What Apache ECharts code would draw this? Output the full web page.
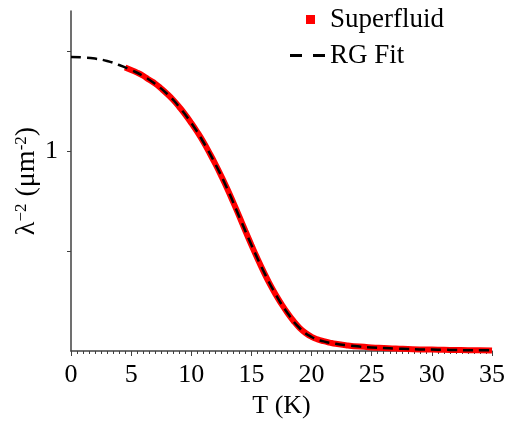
<!DOCTYPE html>
<html>
<head>
<meta charset="utf-8">
<script src="https://cdn.jsdelivr.net/npm/echarts@6/dist/echarts.min.js"></script>
<style>html,body{margin:0;padding:0;background:#fff}#c{width:508px;height:424px}</style>
</head>
<body>
<div id="c"></div>
<script>
// Data
var fitT   = [0,1,2,3,4,5,6,7,8,9,10,11,12,13,14,15,16,17,18,19,20,21,22,23,24,25,26,27,28,29,30,31,32,33,34,35];
var fitVal = [1.470,1.468,1.462,1.450,1.430,1.405,1.375,1.335,1.285,1.220,1.140,1.045,0.935,0.810,0.670,0.530,0.400,0.285,0.190,0.115,0.070,0.048,0.036,0.028,0.022,0.018,0.015,0.012,0.010,0.008,0.007,0.006,0.005,0.004,0.004,0.003];
var sfT    = [4.5,5,5.5,6,6.5,7,7.5,8,8.5,9,9.5,10,10.5,11,11.5,12,12.5,13,13.5,14,14.5,15,15.5,16,16.5,17,17.5,18,18.5,19,19.5,20,20.5,21,21.5,22,23,24,25,26,27,28,29,30,31,32,33,34,35];
var sfVal  = [1.418,1.405,1.392,1.376,1.356,1.337,1.312,1.285,1.255,1.220,1.182,1.140,1.095,1.046,0.992,0.935,0.874,0.810,0.742,0.672,0.600,0.530,0.462,0.398,0.338,0.284,0.235,0.190,0.150,0.116,0.090,0.071,0.058,0.049,0.042,0.036,0.028,0.022,0.018,0.015,0.012,0.010,0.008,0.007,0.006,0.005,0.004,0.004,0.003];
var yTickValues  = [0.5, 1, 1.5];
var yLabelValues = [1];
var seriesNames = ['Superfluid', 'RG Fit'];

function pairs(xs, ys){ var o=[]; for(var i=0;i<xs.length;i++) o.push([xs[i], ys[i]]); return o; }

var serif = '"Liberation Serif", "Times New Roman", serif';
var chart = echarts.init(document.getElementById('c'), null, {renderer:'canvas'});
chart.setOption({
  animation: false,
  backgroundColor: '#fff',
  grid: {left: 71, right: 16, top: 11, bottom: 73, outerBoundsMode: 'none', containLabel: false},
  legend: [
    {
      data: [{name: seriesNames[0], icon: 'rect'}],
      left: 306, top: 6, padding: 0,
      itemWidth: 9, itemHeight: 9,
      textStyle: {fontFamily: serif, fontSize: 27, color: '#000', padding: [0,0,0,10]}
    },
    {
      data: [{name: seriesNames[1], icon: 'path://M0,0 H12 V3 H0 Z M23,0 H35 V3 H23 Z'}],
      left: 290, top: 42, padding: 0,
      itemWidth: 35, itemHeight: 3,
      textStyle: {fontFamily: serif, fontSize: 27, color: '#000'}
    }
  ],
  xAxis: {
    type: 'value', min: 0, max: 35, interval: 5,
    name: 'T (K)', nameLocation: 'middle', nameGap: 42, nameMoveOverlap: false,
    nameTextStyle: {fontFamily: serif, fontSize: 26, color: '#000'},
    axisLine: {show: true, onZero: false, lineStyle: {color: '#404040', width: 1.5}},
    axisTick: {show: true, inside: false, length: 5, lineStyle: {color: '#404040', width: 1}},
    minorTick: {show: true, splitNumber: 10, length: 3, lineStyle: {color: '#404040', width: 1}},
    axisLabel: {fontFamily: serif, fontSize: 26, color: '#000', margin: 11},
    splitLine: {show: false}, minorSplitLine: {show: false}
  },
  yAxis: {
    type: 'value', min: 0, max: 1.7,
    name: '{a|λ}{s|−2}{a| (μm}{s|-2}{a|)}', nameLocation: 'middle', nameGap: 30, nameRotate: 90, nameMoveOverlap: false,
    nameTextStyle: {
      fontFamily: serif, fontSize: 28, color: '#000',
      rich: {
        a: {fontFamily: serif, fontSize: 28, color: '#000'},
        s: {fontFamily: serif, fontSize: 17, color: '#000', verticalAlign: 'top', padding: [0,0,11,0]}
      }
    },
    axisLine: {show: true, onZero: false, lineStyle: {color: '#404040', width: 1.5}},
    axisTick: {show: true, inside: false, length: 4, customValues: yTickValues, lineStyle: {color: '#404040', width: 1}},
    axisLabel: {fontFamily: serif, fontSize: 26, color: '#000', margin: 13, customValues: yLabelValues},
    splitLine: {show: false}
  },
  series: [
    {
      name: seriesNames[0], type: 'line', smooth: true, symbol: 'none', showSymbol: false,
      data: pairs(sfT, sfVal), color: '#ff0000',
      lineStyle: {color: '#ff0000', width: 6}, z: 2
    },
    {
      name: seriesNames[1], type: 'line', smooth: true, symbol: 'none', showSymbol: false,
      data: pairs(fitT, fitVal), color: '#000',
      lineStyle: {color: '#000', width: 2.5, type: [10, 6]}, z: 3
    }
  ]
});
</script>
</body>
</html>
